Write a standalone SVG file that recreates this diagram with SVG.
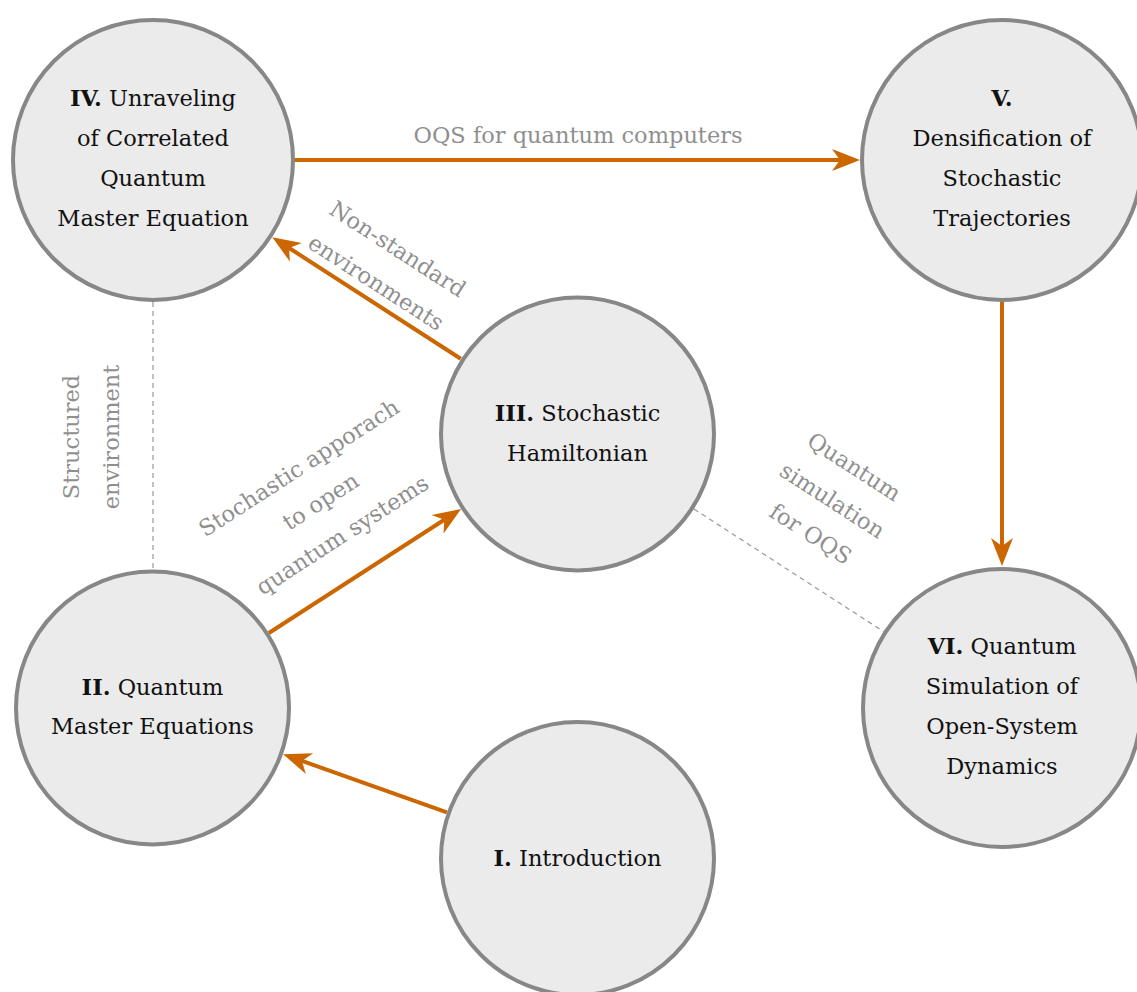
<svg xmlns="http://www.w3.org/2000/svg" width="1137" height="992" viewBox="0 0 1137 992">
<style>
.node circle{fill:#ebebeb;stroke:#878787;stroke-width:4}
text{font-family:"DejaVu Serif","Liberation Serif",serif;font-size:22.5px;text-anchor:middle}
.node text{fill:#111}
.b{font-weight:bold}
.lbl{fill:#8f8f8f}
.arrow{stroke:#cc6600;stroke-width:4;fill:none;marker-end:url(#ah)}
.dash{stroke:#999;stroke-width:1.2;stroke-dasharray:5 4;fill:none}
</style>
<defs>
<marker id="ah" markerUnits="userSpaceOnUse" orient="auto" refX="8" refY="0" markerWidth="30" markerHeight="24" overflow="visible">
<path d="M28,0 L0,-11 L8,0 L0,11 Z" fill="#cc6600"/>
</marker>
</defs>
<rect width="1137" height="992" fill="#fff"/>
<g id="connectors">
<line class="dash" x1="153" y1="302" x2="153" y2="570"/>
<line class="dash" x1="694" y1="509" x2="883.5" y2="631.5"/>
<line class="arrow" x1="295" y1="160" x2="840" y2="160"/>
<line class="arrow" x1="1002" y1="302" x2="1002" y2="546"/>
<line class="arrow" x1="460.7" y1="358.8" x2="289.1" y2="248"/>
<line class="arrow" x1="268.9" y1="633" x2="444.3" y2="519.8"/>
<line class="arrow" x1="446.9" y1="812.3" x2="301.95" y2="760.9"/>
<text class="lbl" x="578" y="143">OQS for quantum computers</text>
<g transform="translate(386.5,266.5) rotate(32.87)">
<text class="lbl" x="0" y="-13">Non-standard</text>
<text class="lbl" x="0" y="27">environments</text>
</g>
<g transform="translate(321,502) rotate(-32.87)">
<text class="lbl" x="0" y="-33">Stochastic apporach</text>
<text class="lbl" x="0" y="7">to open</text>
<text class="lbl" x="0" y="47">quantum systems</text>
</g>
<g transform="translate(832,501) rotate(32.87)">
<text class="lbl" x="0" y="-33">Quantum</text>
<text class="lbl" x="0" y="7">simulation</text>
<text class="lbl" x="0" y="47">for OQS</text>
</g>
<g transform="translate(92,437) rotate(-90)">
<text class="lbl" x="0" y="-13">Structured</text>
<text class="lbl" x="0" y="27">environment</text>
</g>
</g>
<g id="node-IV" class="node">
<circle cx="153" cy="160" r="140"/>
<text x="153" y="106"><tspan class="b">IV.</tspan> Unraveling</text>
<text x="153" y="146">of Correlated</text>
<text x="153" y="186">Quantum</text>
<text x="153" y="226">Master Equation</text>
</g>
<g id="node-V" class="node">
<circle cx="1002" cy="160" r="140"/>
<text x="1002" y="106" class="b">V.</text>
<text x="1002" y="146">Densification of</text>
<text x="1002" y="186">Stochastic</text>
<text x="1002" y="226">Trajectories</text>
</g>
<g id="node-III" class="node">
<circle cx="577.5" cy="434" r="136.5"/>
<text x="577.5" y="421"><tspan class="b">III.</tspan> Stochastic</text>
<text x="577.5" y="461">Hamiltonian</text>
</g>
<g id="node-II" class="node">
<circle cx="152.5" cy="708" r="136.5"/>
<text x="152.5" y="695"><tspan class="b">II.</tspan> Quantum</text>
<text x="152.5" y="734">Master Equations</text>
</g>
<g id="node-VI" class="node">
<circle cx="1002" cy="708" r="139"/>
<text x="1002" y="654"><tspan class="b">VI.</tspan> Quantum</text>
<text x="1002" y="694">Simulation of</text>
<text x="1002" y="734">Open-System</text>
<text x="1002" y="774">Dynamics</text>
</g>
<g id="node-I" class="node">
<circle cx="577.5" cy="858.5" r="136.5"/>
<text x="577.5" y="866"><tspan class="b">I.</tspan> Introduction</text>
</g>
</svg>
